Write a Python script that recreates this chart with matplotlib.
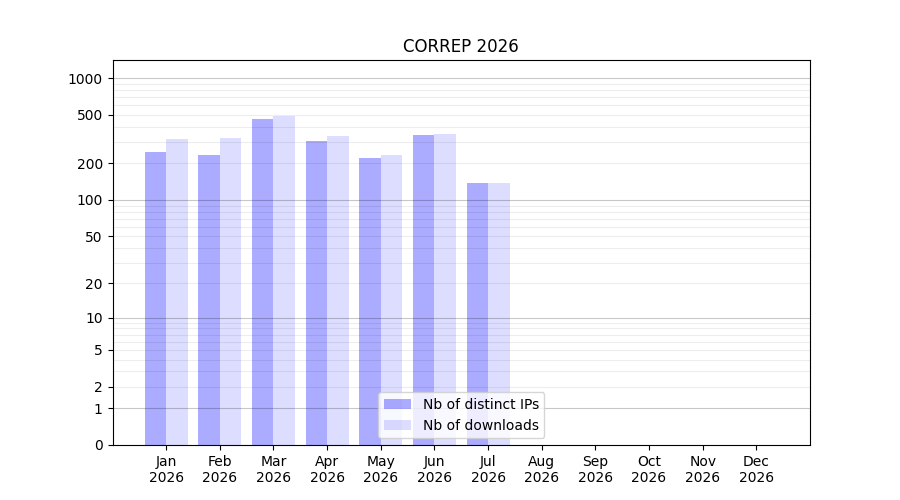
#! /usr/bin/env python3

import matplotlib
matplotlib.use('Agg')
import matplotlib.pyplot as plt
import numpy as np

months = ['Jan', 'Feb', 'Mar', 'Apr', 'May', 'Jun', 'Jul', 'Aug', 'Sep', 'Oct', 'Nov', 'Dec']
year = '2026'
distinct_ips = [247, 233, 460, 304, 220, 340, 137, 0, 0, 0, 0, 0]
downloads = [315, 321, 488, 334, 233, 347, 137, 0, 0, 0, 0, 0]

def forward(x):
    return np.log10(1 + np.maximum(x, 0))

def inverse(y):
    return 10 ** y - 1

fig, ax = plt.subplots(figsize=(9, 5), dpi=100)
ind = np.arange(len(months))
width = 0.4
ax.bar(ind - width / 2, distinct_ips, width, color='blue', alpha=0.33, label='Nb of distinct IPs')
ax.bar(ind + width / 2, downloads, width, color='blue', alpha=0.133, label='Nb of downloads')

ax.set_yscale('function', functions=(forward, inverse))
ax.set_ylim(0, 1410)
ax.set_xlim(-1, 12)

yt = [0, 1, 2, 5, 10, 20, 50, 100, 200, 500, 1000]
ax.yaxis.set_major_locator(matplotlib.ticker.FixedLocator(yt))
ax.yaxis.set_major_formatter(matplotlib.ticker.FixedFormatter([str(v) for v in yt]))
minor = [m * 10 ** k for k in range(3) for m in range(2, 10)]
ax.yaxis.set_minor_locator(matplotlib.ticker.FixedLocator(minor))
ax.tick_params(axis='y', which='minor', left=False, length=0)
ax.grid(axis='y', which='minor', color='black', alpha=0.07, linewidth=0.8)
ax.grid(axis='y', which='major', color='black', alpha=0.07, linewidth=0.8)
for t, v in zip(ax.yaxis.get_major_ticks(), yt):
    if v in (1, 10, 100, 1000):
        t.gridline.set_alpha(0.22)
ax.set_axisbelow(False)

ax.set_xticks(ind)
ax.set_xticklabels([m + '\n' + year for m in months])
ax.set_title('CORREP 2026')
ax.legend(loc='lower center')

plt.savefig('out.png')
